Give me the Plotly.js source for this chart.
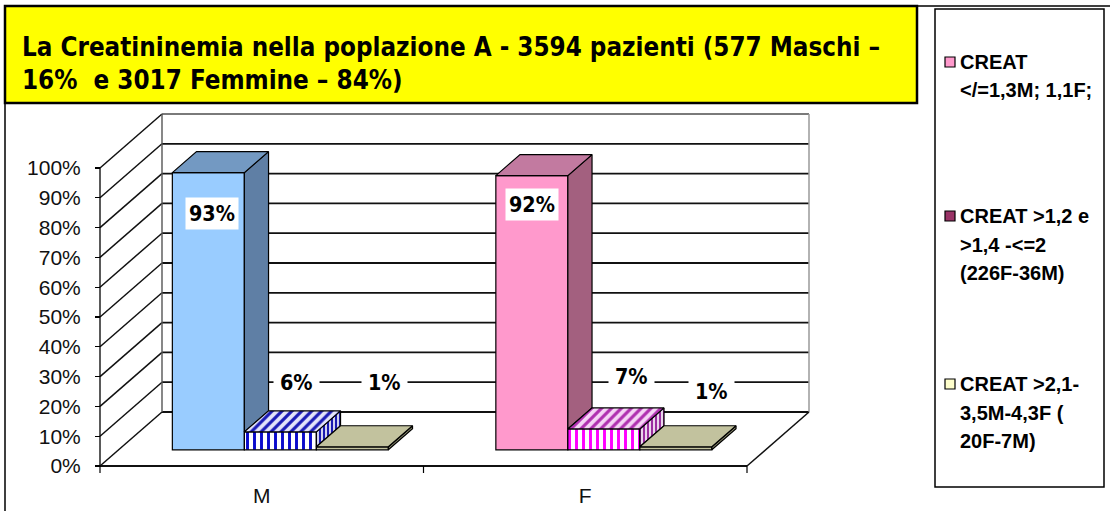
<!DOCTYPE html>
<html><head><meta charset="utf-8">
<script src="https://cdn.plot.ly/plotly-3.0.1.min.js"></script>
<style>html,body{margin:0;padding:0;background:#fff}#chart{width:1110px;height:511px}</style>
</head><body><div id="chart"></div>
<script>
// ---------------- data ----------------
const categories = ['M', 'F'];
const creatNormal = [93, 92];   // CREAT </=1,3M; 1,1F;
const creatMid = [6, 7];        // CREAT >1,2 e >1,4 -<=2 (226F-36M)
const creatHigh = [1, 1];       // CREAT >2,1-3,5M-4,3F ( 20F-7M)
const yTickValues = [0, 10, 20, 30, 40, 50, 60, 70, 80, 90, 100];
const yTickLabels = ['0%', '10%', '20%', '30%', '40%', '50%', '60%', '70%', '80%', '90%', '100%'];
const legendLines = [
  ['CREAT', '</=1,3M; 1,1F;'],
  ['CREAT >1,2 e', '>1,4 -<=2', '(226F-36M)'],
  ['CREAT >2,1-', '3,5M-4,3F (', '20F-7M)']
];
const titleLines = ['La Creatininemia nella poplazione A - 3594 pazienti (577 Maschi \u2013', '16%&nbsp; e 3017 Femmine \u2013 84%)'];

// ---------------- styles / geometry ----------------
const series = [creatNormal, creatMid, creatHigh];
const W = 1110, H = 511;
const XL = 90, XR = 812, YT = 108, YB = 478;     // plot area in px
const CAT_PX = 323.5, X0_PX = 100;               // front axis: x=-0.5 at px 100
const PCT_PX = 2.98, Y0_PX = 466;                // front axis: 0% at px 466
const DX = 62 / CAT_PX, DY = 54 / PCT_PX;        // depth of the 3D box
const F0 = 0.3, FD = 0.39;                       // bar depth position / thickness
const BW = 72 / CAT_PX;                          // bar width
const xRange = [-0.5 + (XL - X0_PX) / CAT_PX, -0.5 + (XR - X0_PX) / CAT_PX];
const yRange = [(Y0_PX - YB) / PCT_PX, (Y0_PX - YT) / PCT_PX];
const px2paperX = px => (px - XL) / (XR - XL);
const px2paperY = py => (YB - py) / (YB - YT);

function measure(text, family, size) {
  const c = document.createElement('canvas').getContext('2d');
  c.font = 'bold ' + size + 'px ' + family;
  return c.measureText(text).width;
}
function hasFont(name) {
  const t = 'La Creatininemia 3594 pazienti';
  return measure(t, '"' + name + '", monospace', 40) !== measure(t, 'monospace', 40);
}
const narrow = hasFont('Liberation Sans Narrow') ? '"Liberation Sans Narrow"' : (hasFont('DejaVu Sans Condensed') ? '"DejaVu Sans Condensed"' : '"Liberation Sans"');
const titleSize = Math.min(34, 858 * 100 / measure(titleLines[0], narrow, 100));
const labelSize = Math.min(28, 46 * 100 / measure('93%', narrow, 100));
const sans = '"Liberation Sans", Arial, sans-serif';

const frontColors = [['#99CCFF', '#FF99CC'], ['#0A0ACC', '#FF00FF'], ['#C2C29E', '#C2C29E']];
const topColors = [['#7399C2', '#C27AA0'], ['#E4E4FA', '#F6D6F6'], ['#C2C29E', '#C2C29E']];
const topStripe = ['#1A1AB4', '#B030B0'];
const sideColors = [['#5F7FA5', '#A3607F'], ['#FFFFFF', '#FFFFFF'], ['#8F8F72', '#8F8F72']];
const sideStripe = ['#1A1AB0', '#9A2FA0'];
const labelShift = [[[4, -41], [0, -29]], [[16, 49], [28, 52]], [[32, 64], [36, 55]]];

const baseY = F0 * DY;
const bdx = FD * DX, bdy = FD * DY;
const xCat = categories.map((c, j) => j);
const barLeft = (i, j) => xCat[j] + F0 * DX - 1.5 * BW + i * BW;

const traces = [];
// front faces (bars)
series.forEach((vals, i) => {
  const t = {
    type: 'bar', x: xCat, y: vals, base: vals.map(() => baseY),
    width: BW, offset: F0 * DX - 1.5 * BW + i * BW,
    marker: { color: frontColors[i], line: { color: '#000', width: 1.2 } },
    hoverinfo: 'skip', showlegend: false
  };
  if (i === 1) t.marker.pattern = { shape: '|', bgcolor: '#FFFFFF', size: 7, solidity: 0.42, fillmode: 'replace' };
  traces.push(t);
});
// top and side faces
series.forEach((vals, i) => {
  vals.forEach((v, j) => {
    const x0 = barLeft(i, j), x1 = x0 + BW;
    const top = baseY + v;
    const next = series[i + 1] ? baseY + series[i + 1][j] : baseY;
    const lo = Math.max(baseY, Math.min(next, top));
    const topFace = {
      type: 'scatter', mode: 'lines', fill: 'toself',
      x: [x0, x1, x1 + bdx, x0 + bdx, x0], y: [top, top, top + bdy, top + bdy, top],
      fillcolor: topColors[i][j], line: { color: '#000', width: 1.2 },
      hoverinfo: 'skip', showlegend: false
    };
    if (i === 1) topFace.fillpattern = { shape: '/', fgcolor: topStripe[j], bgcolor: topColors[i][j], size: 7, solidity: 0.45 };
    const sideFace = {
      type: 'scatter', mode: 'lines', fill: 'toself',
      x: [x1, x1, x1 + bdx, x1 + bdx, x1], y: [lo, top, top + bdy, lo + bdy, lo],
      fillcolor: sideColors[i][j], line: { color: '#000', width: 1.2 },
      hoverinfo: 'skip', showlegend: false
    };
    if (i === 1) sideFace.fillpattern = { shape: '|', fgcolor: sideStripe[j], bgcolor: '#FFFFFF', size: 4, solidity: 0.6 };
    traces.push(sideFace, topFace);
  });
});

// ---------------- walls / gridlines ----------------
const shapes = [];
const line = (x0, y0, x1, y1, color, width) => shapes.push({
  type: 'line', xref: 'x', yref: 'y', x0, y0, x1, y1, layer: 'below',
  line: { color: color, width: width }
});
yTickValues.forEach(v => {
  const c = v === 100 ? '#7a7a7a' : '#111';
  line(-0.5 + DX, v + DY, 1.5 + DX, v + DY, c, 1.8);
  line(-0.5, v, -0.5 + DX, v + DY, '#111', 1.5);
});
line(-0.5 + DX, DY, -0.5 + DX, 100 + DY, '#555', 1.4);
line(1.5 + DX, DY, 1.5 + DX, 100 + DY, '#9a9a9a', 1.5);
line(-0.5, 0, 1.5, 0, '#111', 1.8);
line(1.5, 0, 1.5 + DX, DY, '#111', 1.5);
line(-0.5, 0, -0.5, 100, '#000', 1.3);
[-0.5, 0.5, 1.5].forEach(x => line(x, 0, x, -7 / PCT_PX, '#000', 1.2));

// frame, title box, legend box (paper coordinates)
const rectPx = (x0, y0, x1, y1, fill, lc, lw) => shapes.push({
  type: 'rect', xref: 'paper', yref: 'paper', layer: 'below',
  x0: px2paperX(x0), x1: px2paperX(x1), y0: px2paperY(y1), y1: px2paperY(y0),
  fillcolor: fill, line: { color: lc, width: lw }
});
rectPx(5, 6, 1120, 530, 'rgba(0,0,0,0)', '#000', 1.5);
rectPx(5, 6, 917, 103, '#FFFF00', '#000', 2.5);
rectPx(935, 9, 1104, 487, '#FFFFFF', '#000', 1.5);

// ---------------- annotations ----------------
const annotations = [];
series.forEach((vals, i) => vals.forEach((v, j) => {
  annotations.push({
    xref: 'x', yref: 'y', x: barLeft(i, j) + BW / 2, y: baseY + v,
    xshift: labelShift[i][j][0], yshift: labelShift[i][j][1],
    text: v + '%', showarrow: false, bgcolor: '#FFFFFF', borderpad: i === 0 ? 3 : 6,
    font: { family: narrow, size: labelSize, color: '#000', weight: 'bold' },
    xanchor: 'center', yanchor: 'middle'
  });
}));

const esc = s => s.replace(/&/g, '&amp;').replace(/</g, '&lt;').replace(/>/g, '&gt;');
const legendTop = [62, 216, 384];
const legendSwatch = ['#FF99CC', '#993366', '#FFFFCC'];
legendLines.forEach((lines, k) => {
  lines.forEach((ln, m) => annotations.push({
    xref: 'paper', yref: 'paper', x: px2paperX(958), y: px2paperY(legendTop[k] + m * 28.5),
    xanchor: 'left', yanchor: 'middle', showarrow: false, text: esc(ln),
    font: { family: sans, size: 20, color: '#000', weight: 'bold' }
  }));
  shapes.push({
    type: 'rect', xref: 'paper', yref: 'paper', layer: 'above',
    x0: px2paperX(945), x1: px2paperX(955), y0: px2paperY(legendTop[k] + 5), y1: px2paperY(legendTop[k] - 5),
    fillcolor: legendSwatch[k], line: { color: '#000', width: 1.2 }
  });
});

const layout = {
  width: W, height: H,
  margin: { l: XL, r: W - XR, t: YT, b: H - YB, pad: 0 },
  paper_bgcolor: '#FFFFFF', plot_bgcolor: '#FFFFFF',
  barmode: 'overlay', showlegend: false,
  title: {
    text: titleLines.join('<br>'), xref: 'container', yref: 'container',
    x: 22 / W, xanchor: 'left', y: 1 - 56 / H, yanchor: 'middle',
    font: { family: narrow, size: titleSize, color: '#000', weight: 'bold' }
  },
  xaxis: {
    range: xRange, showgrid: false, zeroline: false, showline: false,
    tickvals: xCat, ticktext: categories, ticks: '', ticklabelstandoff: 3,
    tickfont: { family: sans, size: 21, color: '#111' }
  },
  yaxis: {
    range: yRange, anchor: 'free', position: px2paperX(100), side: 'left',
    showgrid: false, zeroline: false, showline: false,
    tickvals: yTickValues, ticktext: yTickLabels, ticks: 'outside', ticklen: 5, tickwidth: 1.2, tickcolor: '#000',
    ticklabelstandoff: 10,
    tickfont: { family: sans, size: 21, color: '#111' }
  },
  shapes: shapes, annotations: annotations
};
Plotly.newPlot('chart', traces, layout, { staticPlot: true, displayModeBar: false });
</script></body></html>
